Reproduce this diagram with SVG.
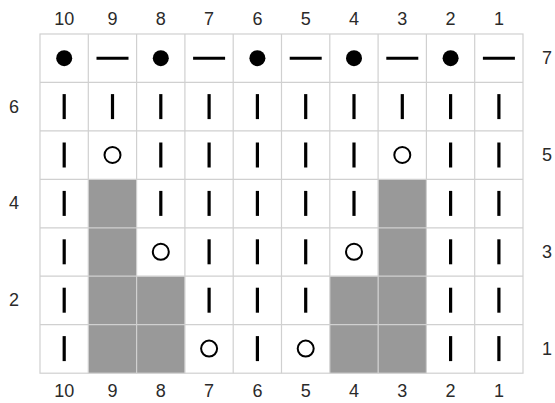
<svg xmlns="http://www.w3.org/2000/svg" width="555" height="403" viewBox="0 0 555 403">
<style>
.lbl{font-family:"Liberation Sans",Arial,sans-serif;font-size:18px;fill:#2a2a2a;text-anchor:middle;dominant-baseline:central}
.bar{stroke:#000;stroke-width:3.2}
.dash{stroke:#000;stroke-width:3}
.dot{fill:#000}
.yo{fill:none;stroke:#000;stroke-width:2}
.sh{fill:#999}
.grid{stroke:#d0d0d0;stroke-width:1.2;fill:none}
</style>
<defs>
<line id="b" class="bar" x1="0" y1="-12.5" x2="0" y2="12.5"/>
<line id="d" class="dash" x1="-16" y1="0" x2="16" y2="0"/>
<circle id="p" class="dot" r="8"/>
<circle id="o" class="yo" r="8"/>
</defs>
<rect x="0" y="0" width="555" height="403" fill="#fff"/>
<g id="shading">
<rect class="sh" x="88.3" y="179.6" width="48.3" height="193.6"/>
<rect class="sh" x="136.6" y="276.4" width="48.3" height="96.8"/>
<rect class="sh" x="330" y="276.4" width="48.3" height="96.8"/>
<rect class="sh" x="378.3" y="179.6" width="48.3" height="193.6"/>
</g>
<g id="grid">
<rect class="grid" x="40" y="34" width="483" height="339.2"/>
<path class="grid" d="M88.3 34V373.2M136.6 34V373.2M184.9 34V373.2M233.2 34V373.2M281.5 34V373.2M329.8 34V373.2M378.1 34V373.2M426.4 34V373.2M474.7 34V373.2M40 82.4H523M40 130.9H523M40 179.3H523M40 227.8H523M40 276.2H523M40 324.7H523"/>
</g>
<g id="row7">
<use href="#p" x="64.2" y="58.2"/><use href="#d" x="112.5" y="58.2"/><use href="#p" x="160.8" y="58.2"/><use href="#d" x="209.1" y="58.2"/><use href="#p" x="257.4" y="58.2"/><use href="#d" x="305.7" y="58.2"/><use href="#p" x="354" y="58.2"/><use href="#d" x="402.3" y="58.2"/><use href="#p" x="450.6" y="58.2"/><use href="#d" x="498.9" y="58.2"/>
</g>
<g id="row6">
<use href="#b" x="64.2" y="106.6"/><use href="#b" x="112.5" y="106.6"/><use href="#b" x="160.8" y="106.6"/><use href="#b" x="209.1" y="106.6"/><use href="#b" x="257.4" y="106.6"/><use href="#b" x="305.7" y="106.6"/><use href="#b" x="354" y="106.6"/><use href="#b" x="402.3" y="106.6"/><use href="#b" x="450.6" y="106.6"/><use href="#b" x="498.9" y="106.6"/>
</g>
<g id="row5">
<use href="#b" x="64.2" y="155"/><use href="#o" x="112.5" y="155"/><use href="#b" x="160.8" y="155"/><use href="#b" x="209.1" y="155"/><use href="#b" x="257.4" y="155"/><use href="#b" x="305.7" y="155"/><use href="#b" x="354" y="155"/><use href="#o" x="402.3" y="155"/><use href="#b" x="450.6" y="155"/><use href="#b" x="498.9" y="155"/>
</g>
<g id="row4">
<use href="#b" x="64.2" y="203.4"/><use href="#b" x="160.8" y="203.4"/><use href="#b" x="209.1" y="203.4"/><use href="#b" x="257.4" y="203.4"/><use href="#b" x="305.7" y="203.4"/><use href="#b" x="354" y="203.4"/><use href="#b" x="450.6" y="203.4"/><use href="#b" x="498.9" y="203.4"/>
</g>
<g id="row3">
<use href="#b" x="64.2" y="251.8"/><use href="#o" x="160.8" y="251.8"/><use href="#b" x="209.1" y="251.8"/><use href="#b" x="257.4" y="251.8"/><use href="#b" x="305.7" y="251.8"/><use href="#o" x="354" y="251.8"/><use href="#b" x="450.6" y="251.8"/><use href="#b" x="498.9" y="251.8"/>
</g>
<g id="row2">
<use href="#b" x="64.2" y="300.2"/><use href="#b" x="209.1" y="300.2"/><use href="#b" x="257.4" y="300.2"/><use href="#b" x="305.7" y="300.2"/><use href="#b" x="450.6" y="300.2"/><use href="#b" x="498.9" y="300.2"/>
</g>
<g id="row1">
<use href="#b" x="64.2" y="348.6"/><use href="#o" x="209.1" y="348.6"/><use href="#b" x="257.4" y="348.6"/><use href="#o" x="305.7" y="348.6"/><use href="#b" x="450.6" y="348.6"/><use href="#b" x="498.9" y="348.6"/>
</g>
<g id="labels">
<text class="lbl" x="64.2" y="19">10</text><text class="lbl" x="112.5" y="19">9</text><text class="lbl" x="160.8" y="19">8</text><text class="lbl" x="209.1" y="19">7</text><text class="lbl" x="257.4" y="19">6</text><text class="lbl" x="305.7" y="19">5</text><text class="lbl" x="354" y="19">4</text><text class="lbl" x="402.3" y="19">3</text><text class="lbl" x="450.6" y="19">2</text><text class="lbl" x="498.9" y="19">1</text>
<text class="lbl" x="64.2" y="391">10</text><text class="lbl" x="112.5" y="391">9</text><text class="lbl" x="160.8" y="391">8</text><text class="lbl" x="209.1" y="391">7</text><text class="lbl" x="257.4" y="391">6</text><text class="lbl" x="305.7" y="391">5</text><text class="lbl" x="354" y="391">4</text><text class="lbl" x="402.3" y="391">3</text><text class="lbl" x="450.6" y="391">2</text><text class="lbl" x="498.9" y="391">1</text>
<text class="lbl" x="14" y="106.6">6</text><text class="lbl" x="14" y="203.4">4</text><text class="lbl" x="14" y="300.2">2</text>
<text class="lbl" x="547" y="58.2">7</text><text class="lbl" x="547" y="155">5</text><text class="lbl" x="547" y="251.8">3</text><text class="lbl" x="547" y="348.6">1</text>
</g>
</svg>
